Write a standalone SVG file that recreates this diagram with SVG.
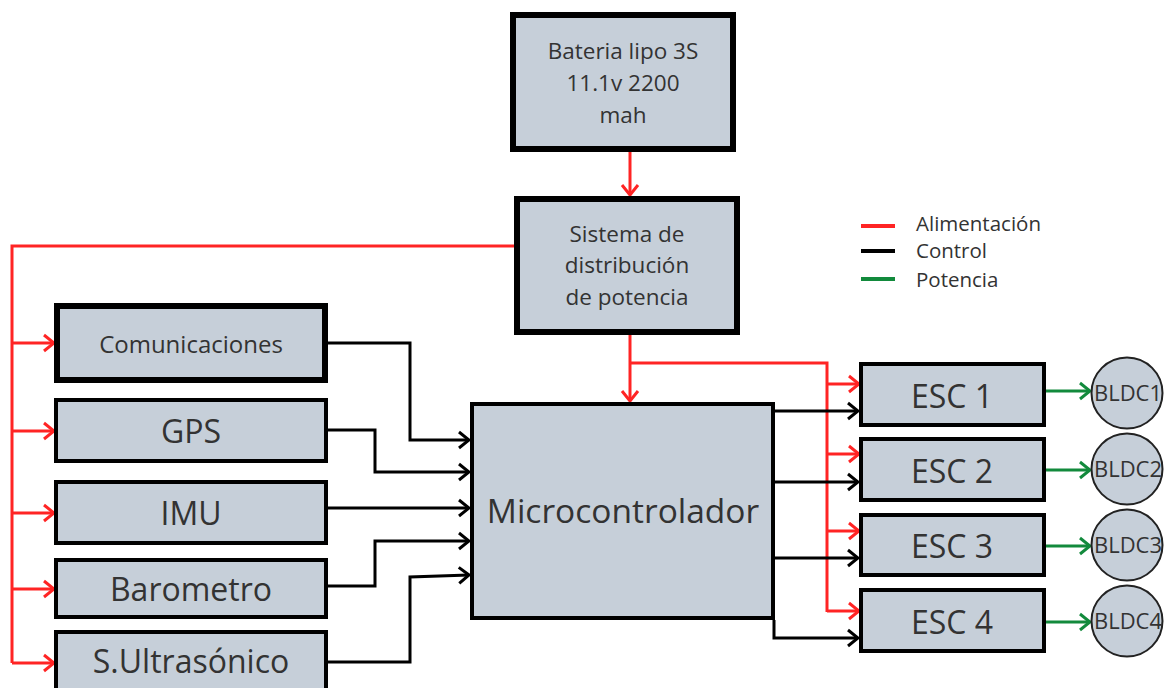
<svg xmlns="http://www.w3.org/2000/svg" width="1164" height="688" viewBox="0 0 1164 688">
<defs>
<style>
.box{fill:#c6cfd9;stroke:#000;stroke-width:4}
.thick{stroke-width:6}
.t{font-family:"Open Sans","Noto Sans","Liberation Sans",sans-serif;fill:#333;text-anchor:middle}
.lg{font-family:"Open Sans","Noto Sans","Liberation Sans",sans-serif;fill:#333;font-size:20.5px}
.r{fill:none;stroke:#ff2424;stroke-width:3}
.k{fill:none;stroke:#000;stroke-width:3}
.g{fill:none;stroke:#128a3c;stroke-width:3}
.circ{fill:#c6cfd9;stroke:#222;stroke-width:2}
</style>
<marker id="ar" markerUnits="userSpaceOnUse" markerWidth="14" markerHeight="20" viewBox="0 0 14 20" refX="12" refY="10" orient="auto"><path d="M2,2 L12,10 L2,18" fill="none" stroke="#ff2424" stroke-width="3"/></marker>
<marker id="ak" markerUnits="userSpaceOnUse" markerWidth="14" markerHeight="20" viewBox="0 0 14 20" refX="12" refY="10" orient="auto"><path d="M2,2 L12,10 L2,18" fill="none" stroke="#000" stroke-width="3"/></marker>
<marker id="ag" markerUnits="userSpaceOnUse" markerWidth="14" markerHeight="20" viewBox="0 0 14 20" refX="12" refY="10" orient="auto"><path d="M2,2 L12,10 L2,18" fill="none" stroke="#128a3c" stroke-width="3"/></marker>
</defs>
<rect width="1164" height="688" fill="#fff"/>

<g id="connectors">
<path class="r" d="M630,152 V195" marker-end="url(#ar)"/>
<path class="r" d="M517,246 H12 V663"/>
<path class="r" d="M12,343 H54" marker-end="url(#ar)"/>
<path class="r" d="M12,431 H54" marker-end="url(#ar)"/>
<path class="r" d="M12,513 H54" marker-end="url(#ar)"/>
<path class="r" d="M12,589 H54" marker-end="url(#ar)"/>
<path class="r" d="M12,663 H54" marker-end="url(#ar)"/>
<path class="r" d="M630,335 V401" marker-end="url(#ar)"/>
<path class="r" d="M630,363 H827 V612"/>
<path class="r" d="M827,384 H859" marker-end="url(#ar)"/>
<path class="r" d="M827,454 H859" marker-end="url(#ar)"/>
<path class="r" d="M827,531 H859" marker-end="url(#ar)"/>
<path class="r" d="M827,611 H859" marker-end="url(#ar)"/>
<path class="k" d="M328,343 H410 V440 H469" marker-end="url(#ak)"/>
<path class="k" d="M328,430 H375 V472 H469" marker-end="url(#ak)"/>
<path class="k" d="M328,508 H469" marker-end="url(#ak)"/>
<path class="k" d="M328,586 H375 V541 H469" marker-end="url(#ak)"/>
<path class="k" d="M328,662 H410 V577 L469,575" marker-end="url(#ak)"/>
<path class="k" d="M775,411 H858" marker-end="url(#ak)"/>
<path class="k" d="M775,482 H858" marker-end="url(#ak)"/>
<path class="k" d="M775,558 H858" marker-end="url(#ak)"/>
<path class="k" d="M774,620 V638 H858" marker-end="url(#ak)"/>
<path class="g" d="M1046,391 H1090" marker-end="url(#ag)"/>
<path class="g" d="M1046,470 H1090" marker-end="url(#ag)"/>
<path class="g" d="M1046,546 H1090" marker-end="url(#ag)"/>
<path class="g" d="M1046,622 H1090" marker-end="url(#ag)"/>
</g>

<g id="bateria"><rect class="box thick" x="513" y="15" width="220" height="134"/>
<text class="t" font-size="22.5" x="623" y="59">Bateria lipo 3S</text>
<text class="t" font-size="22.5" x="623" y="91">11.1v 2200</text>
<text class="t" font-size="22.5" x="623" y="123">mah</text></g>

<g id="sistema"><rect class="box thick" x="517" y="199" width="220" height="133"/>
<text class="t" font-size="22.5" x="627" y="242">Sistema de</text>
<text class="t" font-size="22.5" x="627" y="273">distribución</text>
<text class="t" font-size="22.5" x="627" y="305">de potencia</text></g>

<g id="comunicaciones"><rect class="box thick" x="57" y="306" width="268" height="74"/>
<text class="t" font-size="24" x="191" y="353">Comunicaciones</text></g>
<g id="gps"><rect class="box" x="56" y="400" width="270" height="61"/>
<text class="t" font-size="32" x="191" y="443">GPS</text></g>
<g id="imu"><rect class="box" x="56" y="482" width="270" height="61"/>
<text class="t" font-size="32" x="191" y="525">IMU</text></g>
<g id="barometro"><rect class="box" x="56" y="560" width="270" height="57"/>
<text class="t" font-size="32" x="191" y="601">Barometro</text></g>
<g id="ultrasonico"><rect class="box" x="56" y="632" width="270" height="70"/>
<text class="t" font-size="32" x="191" y="673">S.Ultrasónico</text></g>

<g id="micro"><rect class="box" x="472" y="404" width="301" height="214"/>
<text class="t" font-size="33.5" x="623" y="523">Microcontrolador</text></g>

<g id="esc1"><rect class="box" x="861" y="364" width="183" height="61"/>
<text class="t" font-size="32" x="952" y="408">ESC 1</text></g>
<g id="esc2"><rect class="box" x="861" y="439" width="183" height="61"/>
<text class="t" font-size="32" x="952" y="483">ESC 2</text></g>
<g id="esc3"><rect class="box" x="861" y="515" width="183" height="60"/>
<text class="t" font-size="32" x="952" y="558">ESC 3</text></g>
<g id="esc4"><rect class="box" x="861" y="590" width="183" height="61"/>
<text class="t" font-size="32" x="952" y="634">ESC 4</text></g>

<g id="bldc1"><circle class="circ" cx="1127" cy="393" r="35.5"/>
<text class="t" font-size="22" x="1128" y="401" textLength="68" lengthAdjust="spacingAndGlyphs">BLDC1</text></g>
<g id="bldc2"><circle class="circ" cx="1127" cy="469" r="35.5"/>
<text class="t" font-size="22" x="1128" y="477" textLength="68" lengthAdjust="spacingAndGlyphs">BLDC2</text></g>
<g id="bldc3"><circle class="circ" cx="1127" cy="545" r="35.5"/>
<text class="t" font-size="22" x="1128" y="553" textLength="68" lengthAdjust="spacingAndGlyphs">BLDC3</text></g>
<g id="bldc4"><circle class="circ" cx="1127" cy="621" r="35.5"/>
<text class="t" font-size="22" x="1128" y="629" textLength="68" lengthAdjust="spacingAndGlyphs">BLDC4</text></g>

<g id="legend">
<line x1="861" y1="226" x2="895" y2="226" stroke="#ff2424" stroke-width="4"/>
<line x1="861" y1="251" x2="895" y2="251" stroke="#000" stroke-width="4"/>
<line x1="861" y1="279" x2="895" y2="279" stroke="#128a3c" stroke-width="4"/>
<text class="lg" x="916" y="231">Alimentación</text>
<text class="lg" x="916" y="258">Control</text>
<text class="lg" x="916" y="287">Potencia</text>
</g>
</svg>
